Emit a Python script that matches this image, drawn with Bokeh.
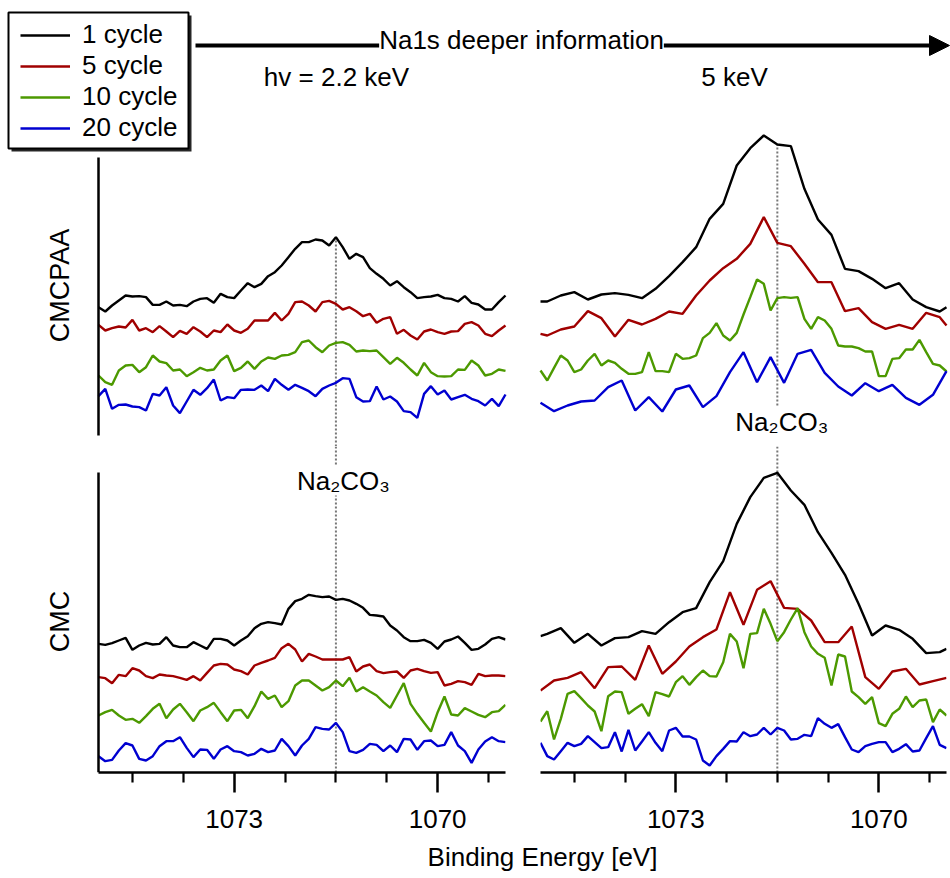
import numpy as np
from bokeh.plotting import figure
from bokeh.models import (Range1d, FixedTicker, Label, Span, Arrow, NormalHead,
                          Legend, LegendItem, BoxAnnotation)
from bokeh.layouts import column, row
from bokeh.embed import file_html
from bokeh.resources import INLINE

FONT = "Liberation Sans"

# ---------------- data ----------------
# binding-energy scan grids (eV)
ENERGY_01 = [1075.0, 1074.9, 1074.8, 1074.7, 1074.6, 1074.5, 1074.4, 1074.3, 1074.2, 1074.1,
             1074.0, 1073.9, 1073.8, 1073.7, 1073.6, 1073.5, 1073.4, 1073.3, 1073.2, 1073.1,
             1073.0, 1072.9, 1072.8, 1072.7, 1072.6, 1072.5, 1072.4, 1072.3, 1072.2, 1072.1,
             1072.0, 1071.9, 1071.8, 1071.7, 1071.6, 1071.5, 1071.4, 1071.3, 1071.2, 1071.1,
             1071.0, 1070.9, 1070.8, 1070.7, 1070.6, 1070.5, 1070.4, 1070.3, 1070.2, 1070.1,
             1070.0, 1069.9, 1069.8, 1069.7, 1069.6, 1069.5, 1069.4, 1069.3, 1069.2, 1069.1,
             1069.0]
ENERGY_02_ODD = [1075.0, 1074.9, 1074.7, 1074.5, 1074.3, 1074.1, 1073.9, 1073.7, 1073.5, 1073.3,
                 1073.1, 1072.9, 1072.7, 1072.5, 1072.3, 1072.1, 1071.9, 1071.7, 1071.5, 1071.3,
                 1071.1, 1070.9, 1070.7, 1070.5, 1070.3, 1070.1, 1069.9, 1069.7, 1069.5, 1069.3,
                 1069.1, 1069.0]
ENERGY_02_EVEN = [1075.0, 1074.8, 1074.6, 1074.4, 1074.2, 1074.0, 1073.8, 1073.6, 1073.4, 1073.2,
                  1073.0, 1072.8, 1072.6, 1072.4, 1072.2, 1072.0, 1071.8, 1071.6, 1071.4, 1071.2,
                  1071.0, 1070.8, 1070.6, 1070.4, 1070.2, 1070.0, 1069.8, 1069.6, 1069.4, 1069.2,
                  1069.0]

NA2CO3_EV = 1071.5
CYCLES = ["1 cycle", "5 cycle", "10 cycle", "20 cycle"]
COLORS = ["#000000", "#a00000", "#4c9900", "#0000d0"]

# CMCPAA, hv = 2.2 keV (offset-stacked counts)
CMCPAA_22_C1 = [355, 342, 360, 375, 390, 387, 388, 385, 362, 362, 372, 360, 362, 358, 372, 380, 382, 368, 395, 385,
                382, 405, 427, 415, 425, 448, 460, 480, 505, 530, 550, 550, 558, 555, 540, 565, 535, 500, 515, 505,
                472, 455, 440, 420, 433, 415, 400, 382, 385, 387, 392, 382, 380, 372, 388, 368, 363, 348, 348, 370, 390]
CMCPAA_22_C5 = [302, 285, 292, 297, 294, 317, 285, 292, 280, 298, 282, 265, 284, 275, 295, 282, 265, 285, 280, 303,
                285, 278, 290, 315, 315, 315, 338, 315, 335, 370, 372, 360, 342, 370, 374, 365, 348, 355, 343, 328,
                335, 308, 320, 325, 275, 287, 270, 258, 282, 288, 280, 275, 282, 283, 305, 310, 300, 275, 268, 285, 300]
CMCPAA_22_C10 = [150, 130, 122, 165, 180, 182, 160, 175, 210, 192, 187, 165, 168, 148, 160, 173, 165, 168, 195, 210,
                 163, 173, 192, 170, 192, 204, 200, 210, 212, 220, 250, 255, 235, 220, 240, 248, 250, 242, 222, 225,
                 223, 225, 205, 185, 203, 188, 168, 150, 188, 160, 148, 147, 148, 168, 167, 195, 180, 150, 155, 168, 164]
CMCPAA_22_C20 = [88, 110, 50, 62, 63, 57, 55, 45, 95, 90, 115, 60, 37, 72, 107, 92, 112, 138, 75, 85,
                 82, 107, 108, 107, 120, 103, 140, 122, 107, 122, 113, 103, 88, 110, 120, 128, 142, 140, 85, 72,
                 73, 117, 78, 87, 72, 43, 40, 23, 95, 118, 93, 105, 78, 85, 92, 80, 73, 60, 80, 58, 93]

# CMCPAA, 5 keV
CMCPAA_5_C1 = [372, 372, 390, 400, 378, 393, 397, 392, 382, 410, 448, 490, 535, 620, 665, 780,
               832, 870, 843, 838, 710, 618, 572, 470, 463, 440, 412, 427, 378, 355, 342, 355]
CMCPAA_5_C5 = [275, 270, 288, 297, 343, 322, 267, 317, 303, 320, 342, 335, 390, 435, 472, 500,
               545, 625, 548, 538, 485, 430, 430, 343, 352, 310, 290, 302, 290, 338, 325, 300]
CMCPAA_5_C10 = [165, 135, 173, 210, 195, 160, 168, 195, 215, 180, 195, 188, 170, 155, 155, 160, 220, 163, 163, 160,
                215, 200, 202, 210, 262, 278, 307, 270, 255, 278, 333, 385, 438, 425, 345, 382, 385, 383, 385, 320,
                290, 325, 315, 290, 240, 237, 237, 232, 222, 222, 148, 148, 200, 202, 228, 228, 257, 220, 185, 180, 162]
CMCPAA_5_C20 = [68, 43, 60, 72, 75, 115, 135, 45, 85, 42, 108, 120, 55, 88, 160, 220,
                130, 205, 128, 215, 227, 158, 117, 90, 127, 103, 122, 83, 62, 92, 163]

# CMC, hv = 2.2 keV
CMC_22_C1 = [365, 362, 367, 375, 383, 347, 360, 368, 363, 365, 385, 360, 355, 355, 370, 360, 350, 380, 380, 375,
             360, 375, 388, 412, 425, 430, 427, 423, 470, 493, 500, 512, 508, 505, 507, 497, 500, 495, 485, 473,
             452, 450, 447, 420, 405, 385, 373, 373, 377, 368, 350, 372, 378, 387, 368, 347, 350, 363, 380, 385, 378]
CMC_22_C5 = [265, 262, 247, 272, 268, 292, 285, 268, 262, 273, 270, 268, 263, 257, 268, 255, 278, 300, 305, 303,
             288, 283, 273, 300, 308, 315, 323, 352, 365, 348, 312, 335, 327, 318, 318, 318, 318, 325, 282, 297,
             303, 283, 277, 280, 282, 263, 285, 290, 283, 278, 280, 240, 245, 253, 250, 242, 275, 268, 270, 270, 268]
CMC_22_C10 = [150, 160, 167, 150, 137, 140, 128, 148, 170, 185, 142, 168, 185, 160, 133, 165, 175, 188, 160, 133,
              165, 167, 142, 178, 222, 200, 210, 175, 193, 240, 255, 255, 240, 225, 235, 255, 238, 263, 222, 235,
              222, 210, 190, 173, 210, 247, 185, 155, 128, 102, 160, 207, 153, 150, 172, 162, 152, 145, 160, 163, 182]
CMC_22_C20 = [28, 13, 17, 45, 67, 60, 20, 15, 28, 58, 73, 73, 85, 53, 25, 48, 47, 20, 48, 58,
              43, 40, 30, 35, 50, 40, 45, 80, 58, 30, 60, 80, 115, 110, 108, 128, 100, 43, 38, 47,
              65, 62, 43, 60, 40, 80, 78, 47, 73, 75, 58, 62, 100, 60, 43, 8, 48, 72, 85, 73, 70]

# CMC, 5 keV
CMC_5_C1 = [388, 395, 412, 368, 395, 360, 382, 385, 403, 395, 430, 460, 472, 550, 613, 725,
            805, 863, 878, 825, 782, 700, 638, 572, 485, 390, 420, 407, 380, 337, 340, 350]
CMC_5_C5 = [225, 255, 263, 280, 232, 295, 297, 257, 360, 275, 312, 357, 385, 408, 520, 422,
            527, 553, 473, 470, 435, 370, 370, 417, 265, 230, 282, 290, 243, 253, 263]
CMC_5_C10 = [132, 163, 78, 140, 215, 223, 202, 180, 162, 103, 208, 222, 220, 155, 170, 184, 148, 220, 214, 207,
             250, 268, 242, 265, 285, 268, 267, 310, 395, 372, 292, 395, 397, 470, 425, 373, 400, 438, 472, 400,
             357, 335, 323, 240, 333, 327, 222, 205, 185, 205, 127, 118, 155, 170, 207, 175, 195, 198, 130, 168, 150]
CMC_5_C20 = [68, 28, 18, 43, 68, 58, 65, 88, 70, 52, 55, 100, 42, 107, 45, 72, 100, 68, 43, 105,
             113, 87, 87, 78, 15, 0, 28, 50, 73, 72, 100, 88, 93, 113, 93, 113, 105, 78, 80, 92,
             88, 142, 125, 113, 124, 85, 48, 40, 58, 65, 70, 70, 40, 50, 64, 42, 45, 82, 118, 62, 52]

PANEL_TL = [(ENERGY_01, CMCPAA_22_C1), (ENERGY_01, CMCPAA_22_C5), (ENERGY_01, CMCPAA_22_C10), (ENERGY_01, CMCPAA_22_C20)]
PANEL_TR = [(ENERGY_02_ODD, CMCPAA_5_C1), (ENERGY_02_ODD, CMCPAA_5_C5), (ENERGY_01, CMCPAA_5_C10), (ENERGY_02_EVEN, CMCPAA_5_C20)]
PANEL_BL = [(ENERGY_01, CMC_22_C1), (ENERGY_01, CMC_22_C5), (ENERGY_01, CMC_22_C10), (ENERGY_01, CMC_22_C20)]
PANEL_BR = [(ENERGY_02_ODD, CMC_5_C1), (ENERGY_02_EVEN, CMC_5_C5), (ENERGY_01, CMC_5_C10), (ENERGY_01, CMC_5_C20)]

MAJOR_TICKS = [1073, 1070]
MINOR_TICKS = [1074.5, 1073.75, 1072.25, 1071.5, 1070.75, 1069.25]
E_HI, E_LO = 1075.0, 1069.0

# ---------------- geometry / style ----------------
LEFT_PX = (98, 505)     # pixel span of the 2.2 keV panels
RIGHT_PX = (540, 946)   # pixel span of the 5 keV panels
TOP_H = 446
BOT_H = 389
FOOT_H = 43
LW = 2.4
DOT = dict(line_color="#777777", line_width=2, line_dash="2 2")
TXT = dict(text_font=FONT, text_color="black", text_baseline="middle")


def value_at(xs, ys, x0):
    i = int(np.argmin(np.abs(np.asarray(xs) - x0)))
    return ys[i]


def panel_range(px_lo, px_hi, frame_l, frame_r):
    scale = (E_HI - E_LO) / (px_hi - px_lo)
    return E_HI + (px_lo - frame_l) * scale, E_LO - (frame_r - px_hi) * scale


def plain_yaxis(ax, bounds):
    ax.ticker = FixedTicker(ticks=[])
    ax.fixed_location = E_HI
    ax.bounds = bounds
    ax.axis_line_width = 2.5
    ax.axis_line_color = "black"
    ax.major_tick_out = 0
    ax.major_tick_in = 0
    ax.minor_tick_out = 0
    ax.minor_tick_in = 0
    ax.major_tick_line_color = None
    ax.minor_tick_line_color = None
    ax.major_label_standoff = 0
    ax.major_label_text_font_size = "0px"


# ---------------- top figure (header + CMCPAA panels) ----------------
TF_L, TF_R = 4, 950
top = figure(width=950, height=TOP_H, x_range=Range1d(*panel_range(*LEFT_PX, TF_L, TF_R)),
             y_range=Range1d(-63, 1275), output_backend="svg", toolbar_location=None,
             min_border_left=TF_L, min_border_right=0, min_border_top=0, min_border_bottom=0)
top.extra_x_ranges = {"R": Range1d(*panel_range(*RIGHT_PX, TF_L, TF_R))}
top.xaxis.visible = False
top.grid.visible = False
top.outline_line_color = None
plain_yaxis(top.yaxis[0], (-30, 804))

# dotted Na2CO3 markers
top.segment(x0=[NA2CO3_EV], y0=[-63], x1=[NA2CO3_EV],
            y1=[value_at(ENERGY_01, CMCPAA_22_C1, NA2CO3_EV)], **DOT)
top.segment(x0=[NA2CO3_EV], y0=[60], x1=[NA2CO3_EV],
            y1=[value_at(ENERGY_02_ODD, CMCPAA_5_C1, NA2CO3_EV)], x_range_name="R", **DOT)

legend_renderers = []
for (xs, ys), c in zip(PANEL_TL, COLORS):
    legend_renderers.append(top.line(xs, ys, line_color=c, line_width=LW))
for (xs, ys), c in zip(PANEL_TR, COLORS):
    top.line(xs, ys, line_color=c, line_width=LW, x_range_name="R")

# legend frame with drop shadow
def screen_box(l, r, t, b, **kw):
    return BoxAnnotation(left=l - TF_L, right=r - TF_L, top=TOP_H - t, bottom=TOP_H - b,
                         left_units="screen", right_units="screen", top_units="screen",
                         bottom_units="screen", **kw)


top.add_layout(screen_box(11, 191, 15, 151, fill_color="black", fill_alpha=0.85, line_color=None))
top.add_layout(screen_box(8, 188, 12, 148, fill_color="white", fill_alpha=1.0,
                          line_color="black", line_width=2, line_alpha=1.0))

legend = Legend(items=[LegendItem(label=lab, renderers=[r]) for lab, r in zip(CYCLES, legend_renderers)],
                location=(20 - TF_L, TOP_H - 143), label_text_font=FONT, label_text_font_size="26px",
                label_text_color="black", glyph_width=50, glyph_height=20, label_height=20,
                label_standoff=12, padding=0, spacing=0, margin=0, border_line_color=None,
                background_fill_alpha=0.0)
top.add_layout(legend)

top.add_layout(Arrow(x_start=195 - TF_L, y_start=TOP_H - 45, x_end=949 - TF_L, y_end=TOP_H - 45,
                     start_units="screen", end_units="screen", line_width=4, line_color="black",
                     end=NormalHead(size=20, fill_color="black", line_color="black", line_width=1)))
top.add_layout(Label(x=521 - TF_L, y=TOP_H - 39, x_units="screen", y_units="screen",
                     text="Na1s deeper information", text_align="center", text_font_size="26px",
                     background_fill_color="white", **TXT))
top.add_layout(Label(x=336 - TF_L, y=TOP_H - 76, x_units="screen", y_units="screen", text="hv = 2.2 keV",
                     text_align="center", text_font_size="26px", **TXT))
top.add_layout(Label(x=734 - TF_L, y=TOP_H - 76, x_units="screen", y_units="screen", text="5 keV",
                     text_align="center", text_font_size="26px", **TXT))
top.add_layout(Label(x=NA2CO3_EV, x_range_name="R", x_offset=-42, y=TOP_H - 421, y_units="screen",
                     text="Na\u2082CO\u2083", text_align="left", text_font_size="26px", **TXT))
top.add_layout(Label(x=59 - TF_L, y=TOP_H - 285, x_units="screen", y_units="screen", text="CMCPAA",
                     angle=np.pi / 2, text_align="center", text_font_size="27px", **TXT))


# ---------------- bottom figures (CMC panels) ----------------
def bottom_fig(width, frame_l_px, frame_r_px, mbl, mbr, data, show_y):
    p = figure(width=width, height=BOT_H,
               x_range=Range1d(*panel_range(*(LEFT_PX if show_y else RIGHT_PX), frame_l_px, frame_r_px)),
               y_range=Range1d(-21, 957), output_backend="svg", toolbar_location=None,
               min_border_left=mbl, min_border_right=mbr, min_border_top=0, min_border_bottom=BOT_H - 326)
    p.grid.visible = False
    p.outline_line_color = None
    xa = p.xaxis[0]
    xa.ticker = FixedTicker(ticks=MAJOR_TICKS, minor_ticks=MINOR_TICKS)
    xa.bounds = (E_LO, E_HI)
    xa.axis_line_width = 2.5
    xa.major_tick_in = 0
    xa.major_tick_out = 20
    xa.minor_tick_in = 0
    xa.minor_tick_out = 10
    xa.major_tick_line_width = 2.5
    xa.minor_tick_line_width = 2.2
    xa.major_label_standoff = 17
    xa.major_label_text_font = FONT
    xa.major_label_text_font_size = "26px"
    xa.major_label_text_color = "black"
    xa.formatter.use_scientific = False
    if show_y:
        plain_yaxis(p.yaxis[0], (-20, 878))
    else:
        p.yaxis.visible = False
    p.add_layout(Span(location=NA2CO3_EV, dimension="height", level="underlay", **DOT))
    for (xs, ys), c in zip(data, COLORS):
        p.line(xs, ys, line_color=c, line_width=LW)
    return p


BF_L = 4
bl = bottom_fig(522, BF_L, 505, BF_L, 17, PANEL_BL, True)
br = bottom_fig(428, 540, 946, 18, 4, PANEL_BR, False)
bl.add_layout(Label(x=NA2CO3_EV, x_offset=-39, y=772 - 480, y_units="screen", text="Na\u2082CO\u2083",
                    text_align="left", text_font_size="26px", background_fill_color="white", **TXT))
bl.add_layout(Label(x=59 - BF_L, y=772 - 621, x_units="screen", y_units="screen", text="CMC",
                    angle=np.pi / 2, text_align="center", text_font_size="27px", **TXT))

# ---------------- footer with shared axis title ----------------
foot = figure(width=950, height=FOOT_H, x_range=Range1d(0, 1), y_range=Range1d(0, 1),
              output_backend="svg", toolbar_location=None, min_border=0)
foot.axis.visible = False
foot.grid.visible = False
foot.outline_line_color = None
foot.add_layout(Label(x=538, y=878 - 856, x_units="screen", y_units="screen", text="Binding Energy [eV]",
                      text_align="center", text_font_size="26px", **TXT))

layout = column(top, row(bl, br), foot)
open("out.html", "w").write(file_html(layout, INLINE))
